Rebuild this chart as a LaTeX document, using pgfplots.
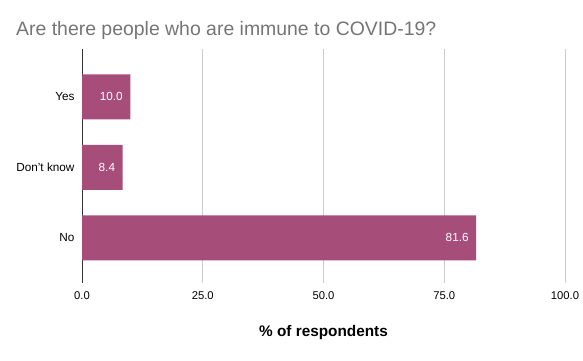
\documentclass[border=0pt]{standalone}
\usepackage{pgfplots}
\pgfplotsset{compat=1.18}
\usepackage{fontspec}
\setmainfont{Liberation Sans}
\definecolor{barc}{HTML}{A64D79}
\definecolor{titlec}{HTML}{757575}
\definecolor{gridc}{HTML}{CCCCCC}
\definecolor{axc}{HTML}{333333}
\begin{document}
\begin{tikzpicture}[x=1bp,y=1bp]
\useasboundingbox (0,0) rectangle (583,360);
\node[anchor=west, inner sep=0pt, text=titlec, font=\fontsize{19.5}{23}\selectfont] at (16,330) {Are there people who are immune to COVID-19?};
\begin{axis}[
  at={(82bp,77bp)}, anchor=south west,
  scale only axis, width=483bp, height=234bp,
  xbar, bar width=0.64,
  xmin=0, xmax=100, ymin=-0.68, ymax=2.64,
  y dir=reverse,
  xtick={0,25,50,75,100},
  ytick={0,1,2},
  yticklabels={Yes,Don't know,No},
  /pgf/number format/assume math mode=true,
  xticklabel={\pgfmathprintnumber[fixed,fixed zerofill,precision=1]{\tick}},
  major tick length=0pt,
  axis x line*=bottom, axis y line*=left,
  x axis line style={draw=none},
  y axis line style={draw=axc, line width=1bp},
  xmajorgrids, major grid style={draw=gridc, line width=0.8bp},
  tick label style={font=\fontsize{11.3}{13}\selectfont, text=black},
  yticklabel style={xshift=-4bp, font=\fontsize{11.8}{13}\selectfont},
  xticklabel style={yshift=-5bp},
  xlabel={\textbf{\% of respondents}},
  xlabel style={at={(axis description cs:0.5,-0.21)}, anchor=center, font=\fontsize{15.4}{18}\selectfont},
  nodes near coords,
  nodes near coords style={anchor=east, xshift=-4bp, text=white, font=\fontsize{11.8}{13}\selectfont,
    /pgf/number format/.cd, fixed, fixed zerofill, precision=1, assume math mode=true},
]
\addplot[fill=barc, draw=none] coordinates {(10.0,0) (8.4,1) (81.6,2)};
\end{axis}
\end{tikzpicture}
\end{document}
